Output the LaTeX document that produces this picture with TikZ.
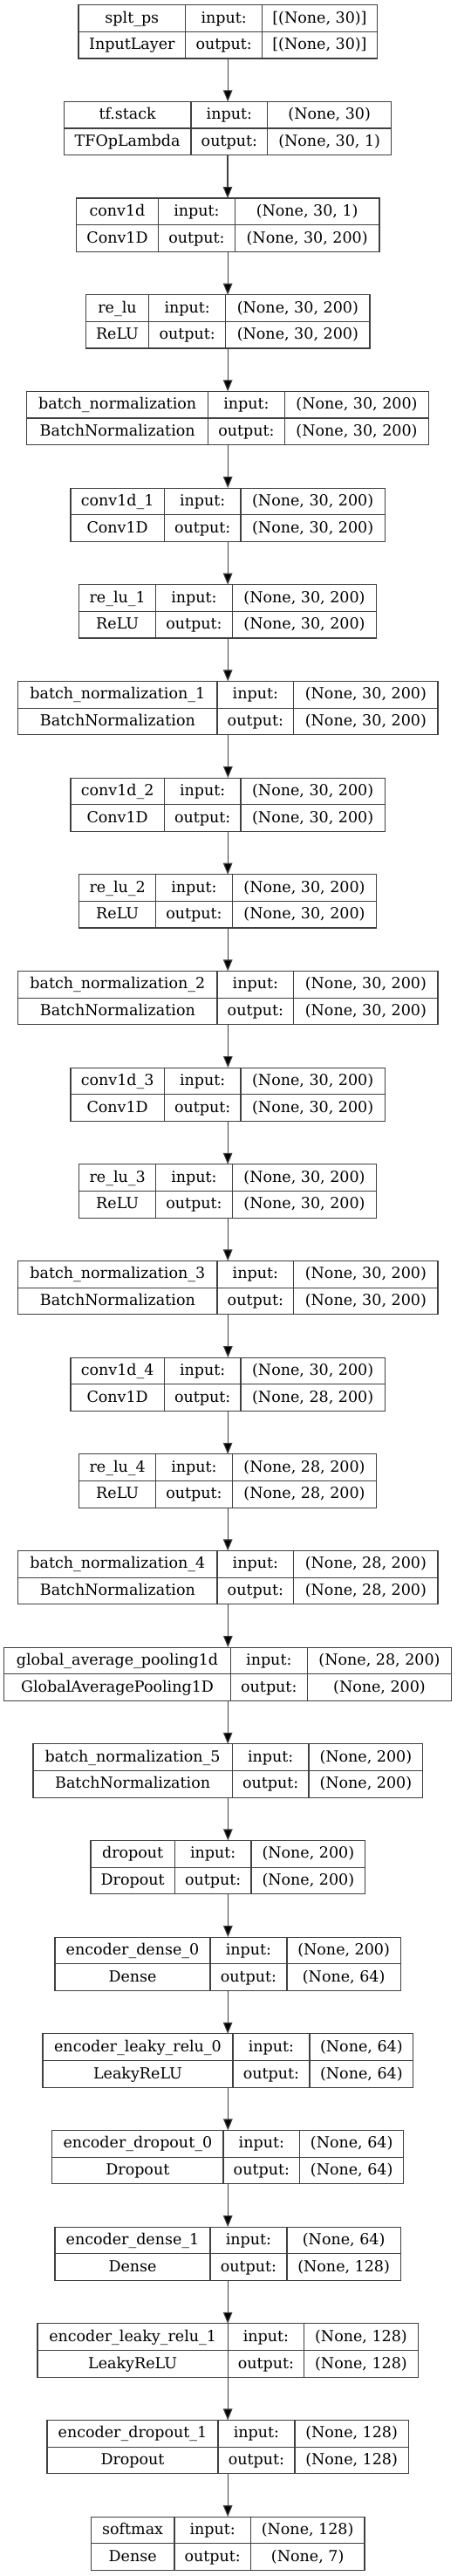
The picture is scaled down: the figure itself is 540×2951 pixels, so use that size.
\documentclass[tikz,border=0pt]{standalone}
\usepackage{fontspec}
\setmainfont{DejaVu Serif}
\usetikzlibrary{arrows.meta}
\definecolor{ln}{RGB}{64,64,64}
\tikzset{
  boxline/.style={draw=ln, line width=1.1pt},
  cell/.style={inner sep=0pt, anchor=base, font=\fontsize{17.5}{20}\selectfont, text=black},
  arr/.style={draw=ln, line width=1.1pt, -{Triangle[length=13pt,width=10.5pt,fill=black]}}
}
\newcommand\klayer[9]{%
  \pgfmathsetmacro\ktop{5.7+110.67*#1}%
  \pgfmathsetmacro\kmid{\ktop+30.65}%
  \pgfmathsetmacro\kbot{\ktop+61.3}%
  \pgfmathsetmacro\kw{#5-#2}%
  \pgfmathsetmacro\kcx{(#2+#5)/2}%
  \pgfmathsetmacro\kra{\ktop+20.5}%
  \pgfmathsetmacro\krb{\ktop+51.2}%
  \node[boxline, minimum width=\kw pt, minimum height=61.3pt, inner sep=0pt, outer sep=0pt] (L#1) at (\kcx,\kmid) {};
  \draw[boxline] (#2,\kmid) -- (#5,\kmid);
  \draw[boxline] (#3,\ktop) -- (#3,\kbot);
  \draw[boxline] (#4,\ktop) -- (#4,\kbot);
  \node[cell] (L#1n) at ({(#2+#3)/2},\kra) {#6};
  \node[cell] (L#1c) at ({(#2+#3)/2},\krb) {#7};
  \node[cell] (L#1i) at ({(#3+#4)/2},\kra) {input:};
  \node[cell] (L#1o) at ({(#3+#4)/2},\krb) {output:};
  \node[cell] (L#1s) at ({(#4+#5)/2},\kra) {#8};
  \node[cell] (L#1t) at ({(#4+#5)/2},\krb) {#9};
}
\begin{document}
\begin{tikzpicture}[x=1pt,y=-1pt]
\useasboundingbox[fill=white] (0,0) rectangle (540,2951);
\klayer{0}{90}{212.7}{300.7}{432.3}{splt\_ps}{InputLayer}{[(None, 30)]}{[(None, 30)]}
\klayer{1}{73.3}{219}{306.7}{448.7}{tf.stack}{TFOpLambda}{(None, 30)}{(None, 30, 1)}
\klayer{2}{87.3}{181.7}{269.3}{435}{conv1d}{Conv1D}{(None, 30, 1)}{(None, 30, 200)}
\klayer{3}{98.3}{170.7}{258.7}{424}{re\_lu}{ReLU}{(None, 30, 200)}{(None, 30, 200)}
\klayer{4}{30.7}{238.7}{326.3}{491.7}{batch\_normalization}{BatchNormalization}{(None, 30, 200)}{(None, 30, 200)}
\klayer{5}{81}{188.3}{276}{441.3}{conv1d\_1}{Conv1D}{(None, 30, 200)}{(None, 30, 200)}
\klayer{6}{90.7}{178.7}{266.3}{431.7}{re\_lu\_1}{ReLU}{(None, 30, 200)}{(None, 30, 200)}
\klayer{7}{20.7}{249}{336.7}{502}{batch\_normalization\_1}{BatchNormalization}{(None, 30, 200)}{(None, 30, 200)}
\klayer{8}{81}{188.3}{276}{441.3}{conv1d\_2}{Conv1D}{(None, 30, 200)}{(None, 30, 200)}
\klayer{9}{90.7}{178.7}{266.3}{431.7}{re\_lu\_2}{ReLU}{(None, 30, 200)}{(None, 30, 200)}
\klayer{10}{20.7}{249}{336.7}{502}{batch\_normalization\_2}{BatchNormalization}{(None, 30, 200)}{(None, 30, 200)}
\klayer{11}{81}{188.3}{276}{441.3}{conv1d\_3}{Conv1D}{(None, 30, 200)}{(None, 30, 200)}
\klayer{12}{90.7}{178.7}{266.3}{431.7}{re\_lu\_3}{ReLU}{(None, 30, 200)}{(None, 30, 200)}
\klayer{13}{20.7}{249}{336.7}{502}{batch\_normalization\_3}{BatchNormalization}{(None, 30, 200)}{(None, 30, 200)}
\klayer{14}{81}{188.3}{276}{441.3}{conv1d\_4}{Conv1D}{(None, 30, 200)}{(None, 28, 200)}
\klayer{15}{90.7}{178.7}{266.3}{431.7}{re\_lu\_4}{ReLU}{(None, 28, 200)}{(None, 28, 200)}
\klayer{16}{20.7}{249}{336.7}{502}{batch\_normalization\_4}{BatchNormalization}{(None, 28, 200)}{(None, 28, 200)}
\klayer{17}{4.7}{264.3}{352.3}{517.7}{global\_average\_pooling1d}{GlobalAveragePooling1D}{(None, 28, 200)}{(None, 200)}
\klayer{18}{38}{266.3}{354}{484.7}{batch\_normalization\_5}{BatchNormalization}{(None, 200)}{(None, 200)}
\klayer{19}{104}{200.3}{288}{418.7}{dropout}{Dropout}{(None, 200)}{(None, 200)}
\klayer{20}{63}{241}{329}{459.3}{encoder\_dense\_0}{Dense}{(None, 200)}{(None, 64)}
\klayer{21}{49}{267}{355}{473.7}{encoder\_leaky\_relu\_0}{LeakyReLU}{(None, 64)}{(None, 64)}
\klayer{22}{59.7}{256}{343.7}{462.7}{encoder\_dropout\_0}{Dropout}{(None, 64)}{(None, 64)}
\klayer{23}{63}{241}{329}{459.3}{encoder\_dense\_1}{Dense}{(None, 64)}{(None, 128)}
\klayer{24}{43}{261.3}{348.7}{479.3}{encoder\_leaky\_relu\_1}{LeakyReLU}{(None, 128)}{(None, 128)}
\klayer{25}{54}{250}{338}{468.3}{encoder\_dropout\_1}{Dropout}{(None, 128)}{(None, 128)}
\klayer{26}{104.3}{200}{287.3}{418}{softmax}{Dense}{(None, 128)}{(None, 7)}
\foreach \i in {0,...,25}{
  \pgfmathtruncatemacro\j{\i+1}
  \draw[arr] (L\i.south) -- (L\i.south |- L\j.north);
}
\end{tikzpicture}
\end{document}
